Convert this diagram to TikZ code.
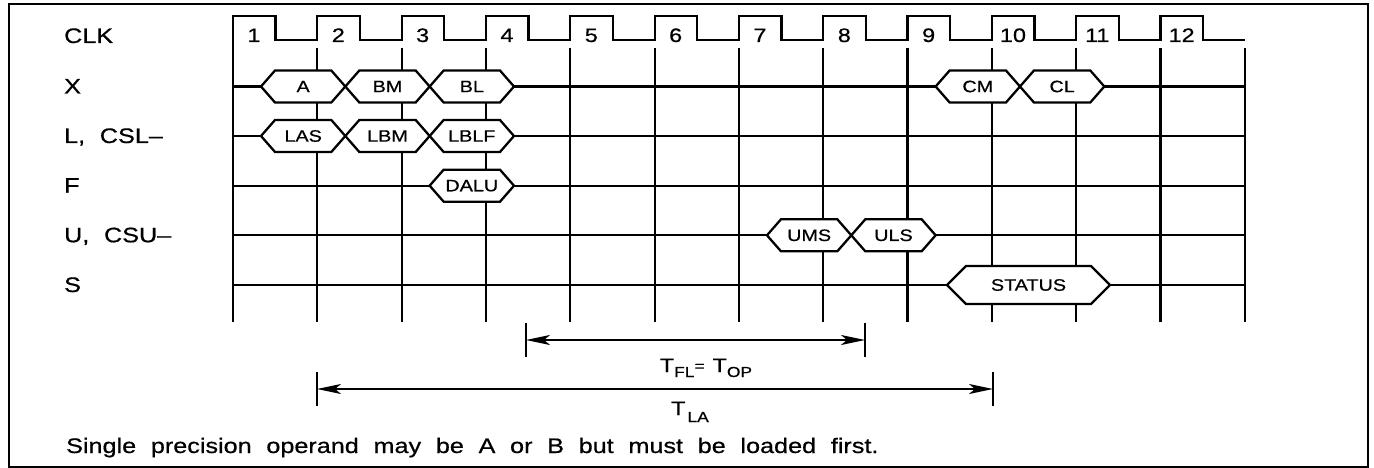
\documentclass[tikz,border=0pt]{standalone}
\usepackage{fontspec}
\setmainfont{Liberation Sans}[FakeStretch=1.2,WordSpace=2.1,FakeBold=0.6]
\usetikzlibrary{arrows.meta}
\newcommand{\subfont}{\fontsize{14.5}{16}\selectfont}
\newcommand{\bk}[1]{261+84.33*#1}
\newcommand{\busval}[7]{%
  \pgfmathsetmacro\bxa{#2}\pgfmathsetmacro\bxb{#3}%
  \draw[bus] (\bxa,#4) -- ({\bxa+#5},{#4-#6}) -- ({\bxb-#5},{#4-#6}) -- (\bxb,#4)
    -- ({\bxb-#5},{#4+#6}) -- ({\bxa+#5},{#4+#6}) -- cycle;
  \node[buslabel] (#1) at ({(\bxa+\bxb)/2},#4) {#7};}

\begin{document}
\begin{tikzpicture}[
        x=1pt, y=-1pt,
        line width=2.3pt,
        sig/.style={font=\fontsize{21}{24}\selectfont, anchor=base west, inner sep=0pt},
        bus/.style={draw, fill=white, line join=miter},
        buslabel/.style={font=\fontsize{16.5}{18}\selectfont, inner sep=0pt},
        clknum/.style={font=\fontsize{19.5}{22}\selectfont, anchor=base, inner sep=0pt},
        dimarrow/.style={line width=1.9pt, {Stealth[length=24pt,width=10pt,inset=6pt]}-{Stealth[length=24pt,width=10pt,inset=6pt]}},
        dimline/.style={line width=1.9pt},
        dimlabel/.style={font=\fontsize{19.5}{22}\selectfont, anchor=base, inner sep=0pt}
    ]
        \useasboundingbox (0,0) rectangle (1374,468);
        \draw[line width=2pt] (9,4) rectangle (1368,467);

        \node[sig] (clk) at (63,43) {CLK};
        \node[sig] (xsig) at (63,93.5) {X};
        \node[sig] (lsig) at (63,143) {L, CSL–};
        \node[sig] (fsig) at (63,192.7) {F};
        \node[sig] (usig) at (63,242.3) {U, CSU–};
        \node[sig] (ssig) at (63,292) {S};

        \draw (233,40) \foreach \k in {0,...,11}{ -- ({233+84.33*\k},16) -- ({275.5+84.33*\k},16) -- ({275.5+84.33*\k},40) -- ({317.33+84.33*\k},40)};
        \foreach \k [count=\n] in {0,...,11}
            \node[clknum] (c\n) at ({254+84.33*\k},42) {\n};

        \draw (233,16) -- (233,322);
        \foreach \k in {1,...,12}
            \draw ({233+84.33*\k},48) -- ({233+84.33*\k},322);
        \foreach \r in {86.5,136,185.7,235.3,285}
            \draw (233,\r) -- (1245,\r);

        \busval{xa}{\bk0}{\bk1}{86.5}{14}{16}{A}
        \busval{xbm}{\bk1}{\bk2}{86.5}{14}{16}{BM}
        \busval{xbl}{\bk2}{\bk3}{86.5}{14}{16}{BL}
        \busval{xcm}{\bk8}{\bk9}{86.5}{14}{16}{CM}
        \busval{xcl}{\bk9}{\bk{10}}{86.5}{14}{16}{CL}
        \busval{las}{\bk0}{\bk1}{136}{14}{16}{LAS}
        \busval{lbm}{\bk1}{\bk2}{136}{14}{16}{LBM}
        \busval{lblf}{\bk2}{\bk3}{136}{14}{16}{LBLF}
        \busval{dalu}{\bk2}{\bk3}{185.7}{14}{16}{DALU}
        \busval{ums}{\bk6}{\bk7}{235.3}{14}{16}{UMS}
        \busval{uls}{\bk7}{\bk8}{235.3}{14}{16}{ULS}
        \busval{status}{947}{1110}{285}{19}{19}{STATUS}

        \coordinate (fla) at (526,340);
        \coordinate (flb) at (865,340);
        \coordinate (laa) at (317,389);
        \coordinate (lab) at (993,389);
        \foreach \c in {fla,flb,laa,lab}
            \draw[dimline] ([yshift=17pt]\c) -- ([yshift=-17pt]\c);
        \draw[dimarrow] (fla) -- (flb);
        \draw[dimarrow] (laa) -- (lab);
        \node[dimlabel] (tfl) at (706,372) {T\raisebox{-5pt}{\subfont FL}\raisebox{1pt}{\subfont =}\hspace{8pt}T\raisebox{-5pt}{\subfont OP}};
        \node[dimlabel] (tla) at (690,415) {T\hspace{2pt}\raisebox{-7pt}{\subfont LA}};

        \node[sig] (note) at (65,453) {Single precision operand may be A or B but must be loaded first.};
    \end{tikzpicture}
\end{document}
